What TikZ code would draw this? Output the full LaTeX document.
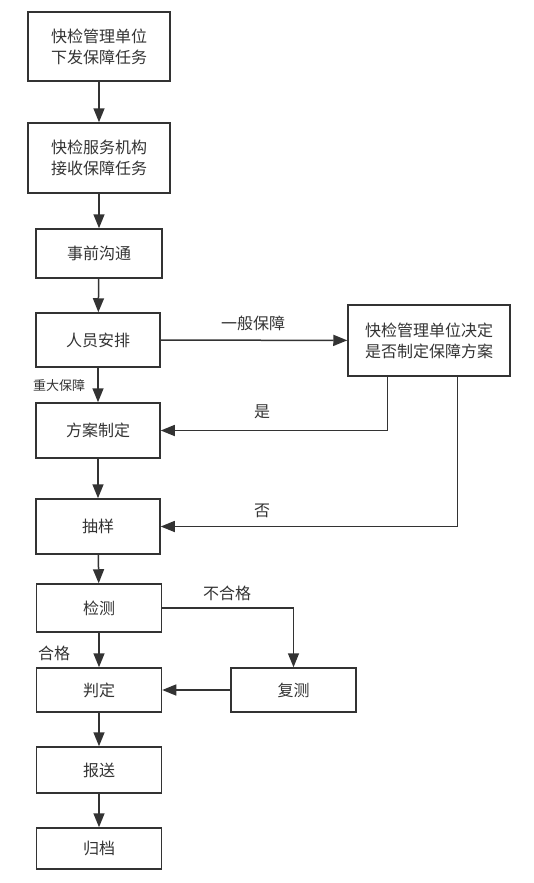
\documentclass[tikz,border=0pt]{standalone}
\usepackage{fontspec}
\setmainfont{Noto Sans CJK SC}
\usetikzlibrary{arrows.meta,calc}
\definecolor{linegray}{HTML}{333333}
\tikzset{
    stepbox/.style={draw=linegray, line width=1.5pt, text=linegray, align=center,
        font=\fontsize{16}{21}\selectfont, inner sep=0pt},
    flow/.style={draw=linegray, line width=1.5pt,
        -{Triangle[length=14pt,width=11pt]}},
    lbl/.style={text=linegray, font=\fontsize{16}{20}\selectfont, inner sep=0pt}
}
\begin{document}
\begin{tikzpicture}[x=1pt, y=-1pt]
    \useasboundingbox (0,0) rectangle (534,883);
    % Main column
    \node[stepbox, minimum width=142pt, minimum height=69pt] (n1) at (99,46.5) {快检管理单位\\下发保障任务};
    \node[stepbox, minimum width=142pt, minimum height=70pt] (n2) at (99,158) {快检服务机构\\接收保障任务};
    \node[stepbox, minimum width=126pt, minimum height=49pt] (n3) at (99,253.5) {事前沟通};
    \node[stepbox, minimum width=124pt, minimum height=54pt] (n4) at (98,340) {人员安排};
    \node[stepbox, minimum width=124pt, minimum height=55pt] (n5) at (98,430.5) {方案制定};
    \node[stepbox, minimum width=124pt, minimum height=55pt] (n6) at (98,526.5) {抽样};
    \node[stepbox, minimum width=125pt, minimum height=48pt] (n7) at (99,608) {检测};
    \node[stepbox, minimum width=125pt, minimum height=44pt] (n8) at (99,690) {判定};
    \node[stepbox, minimum width=125pt, minimum height=46pt] (n9) at (99,770) {报送};
    \node[stepbox, minimum width=125pt, minimum height=41pt] (n10) at (99,848.5) {归档};
    % Side boxes
    \node[stepbox, minimum width=162pt, minimum height=71pt] (dec) at (429,340.5) {快检管理单位决定\\是否制定保障方案};
    \node[stepbox, minimum width=125pt, minimum height=44pt] (re) at (293.5,690) {复测};

    % Vertical flow
    \foreach \a/\b in {n1/n2, n2/n3, n3/n4, n4/n5, n5/n6, n6/n7, n7/n8, n8/n9, n9/n10} {
        \draw[flow] (\a) -- (\b);
    }
    % Branches
    \draw[flow] (n4) -- (dec);
    \draw[flow] ([xshift=40pt]dec.south west) |- (n5);
    \draw[flow] ([xshift=110pt]dec.south west) |- (n6);
    \draw[flow] (n7) -| (re);
    \draw[flow] (re) -- (n8);

    % Labels
    \node[lbl] (l1) at (253,323) {一般保障};
    \node[lbl, font=\fontsize{13}{15}\selectfont] (l2) at (59,386) {重大保障};
    \node[lbl] (l3) at (262,412) {是};
    \node[lbl] (l4) at (262,511) {否};
    \node[lbl] (l5) at (227,593) {不合格};
    \node[lbl] (l6) at (54,653) {合格};
\end{tikzpicture}
\end{document}
